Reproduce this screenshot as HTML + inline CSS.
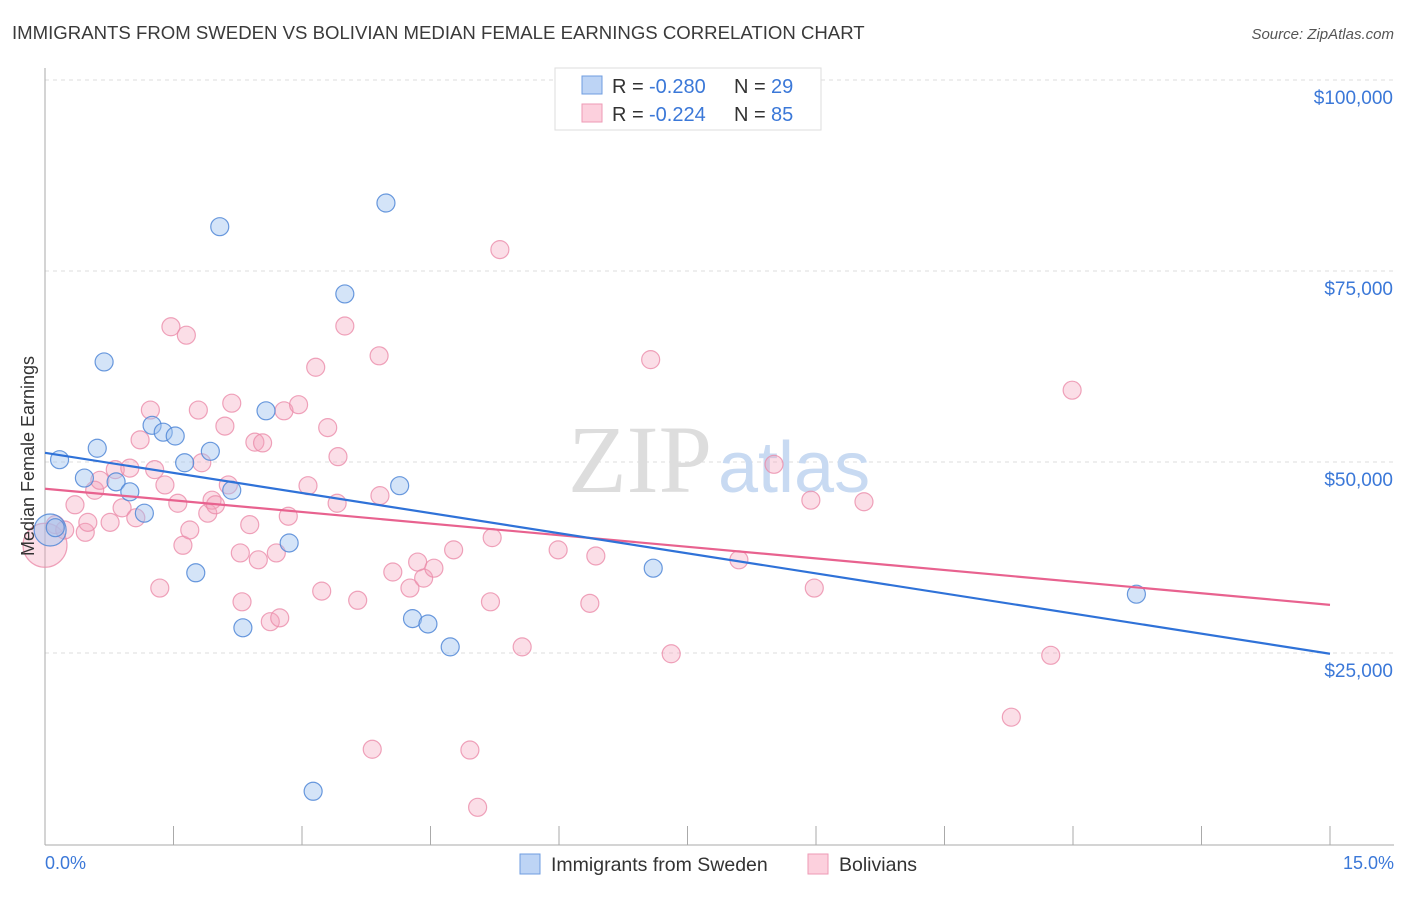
<!DOCTYPE html>
<html><head><meta charset="utf-8"><style>
body{margin:0;background:#fff;font-family:"Liberation Sans",sans-serif}
</style></head><body>
<svg width="1406" height="892" xmlns="http://www.w3.org/2000/svg">
<text x="12" y="39" font-size="18.6" fill="#3a3a3a">IMMIGRANTS FROM SWEDEN VS BOLIVIAN MEDIAN FEMALE EARNINGS CORRELATION CHART</text>
<text x="1394" y="39" font-size="15" fill="#555" font-style="italic" text-anchor="end">Source: ZipAtlas.com</text>
<g id="grid"></g>
<text x="712" y="492" font-size="96" font-family="Liberation Serif" fill="#ddd" text-anchor="end">ZIP</text>
<text x="718" y="492" font-size="72" fill="#c8daf2">atlas</text>
<g id="pts"></g>
<g id="trend"></g>
<text transform="translate(34,456) rotate(-90)" font-size="18" fill="#333" text-anchor="middle">Median Female Earnings</text>
<text x="45" y="869" font-size="18" fill="#3b78d8">0.0%</text>
<text x="1394" y="869" font-size="18" fill="#3b78d8" text-anchor="end">15.0%</text>
<g>
<rect x="555" y="68" width="266" height="62" fill="#fff" stroke="#ddd"/>
<rect x="582" y="76" width="20" height="18" fill="#bdd4f5" stroke="#6f9de0"/>
<rect x="582" y="104" width="20" height="18" fill="#fcd0dd" stroke="#ee9ab5"/>
<text x="612" y="93" font-size="20" fill="#333">R = <tspan x="649" fill="#3b78d8">-0.280</tspan><tspan x="734">N = </tspan><tspan x="771" fill="#3b78d8">29</tspan></text>
<text x="612" y="121" font-size="20" fill="#333">R = <tspan x="649" fill="#3b78d8">-0.224</tspan><tspan x="734">N = </tspan><tspan x="771" fill="#3b78d8">85</tspan></text>
</g>
<g>
<rect x="520" y="854" width="20" height="20" fill="#bdd4f5" stroke="#6f9de0"/>
<text x="551" y="871" font-size="19.5" fill="#333">Immigrants from Sweden</text>
<rect x="808" y="854" width="20" height="20" fill="#fcd0dd" stroke="#ee9ab5"/>
<text x="839" y="871" font-size="19.5" fill="#333">Bolivians</text>
</g>
</svg>
<script>
const yTicks=[25000,50000,75000,100000];
const yTickLabels=["$25,000","$50,000","$75,000","$100,000"];
const xTicks=[0,1.5,3,4.5,6,7.5,9,10.5,12,13.5,15];
const swedenX=[0.06,0.12,0.17,0.46,0.61,0.69,0.83,0.99,1.16,1.25,1.38,1.52,1.63,1.76,1.93,2.04,2.18,2.31,2.58,2.85,3.13,3.50,3.98,4.14,4.29,4.47,4.73,7.10,12.74];
const swedenY=[41.1,41.4,50.3,47.9,51.8,63.1,47.4,46.1,43.3,54.8,53.9,53.4,49.9,35.5,51.4,80.8,46.3,28.3,56.7,39.4,6.9,72.0,83.9,46.9,29.5,28.8,25.8,36.1,32.7];
const bolX=[0.0,0.12,0.23,0.35,0.47,0.50,0.58,0.64,0.76,0.82,0.90,0.99,1.06,1.11,1.23,1.28,1.34,1.40,1.47,1.55,1.61,1.65,1.69,1.79,1.83,1.90,1.95,1.99,2.10,2.14,2.18,2.28,2.30,2.39,2.45,2.49,2.54,2.63,2.70,2.74,2.79,2.84,2.96,3.07,3.16,3.23,3.30,3.41,3.42,3.50,3.65,3.82,3.90,3.91,4.06,4.26,4.35,4.42,4.54,4.77,4.96,5.05,5.20,5.22,5.31,5.57,5.99,6.36,6.43,7.07,7.31,8.10,8.51,8.94,8.98,9.56,11.28,11.74,11.99];
const bolY=[39.1,41.8,41.1,44.4,40.8,42.1,46.3,47.6,42.1,49.0,44.0,49.2,42.7,52.9,56.8,49.0,33.5,47.0,67.7,44.6,39.1,66.6,41.1,56.8,49.9,43.3,45.0,44.4,54.7,47.0,57.7,38.1,31.7,41.8,52.6,37.2,52.5,29.1,38.1,29.6,56.7,42.9,57.5,46.9,62.4,33.1,54.5,44.6,50.7,67.8,31.9,12.4,63.9,45.6,35.6,33.5,36.9,34.8,36.1,38.5,12.3,4.8,31.7,40.1,77.8,25.8,38.5,31.5,37.7,63.4,24.9,37.2,49.7,45.0,33.5,44.8,16.6,24.7,59.4];
const swedenTrend=[51.2,24.9];
const bolTrend=[46.5,31.3];
const NS="http://www.w3.org/2000/svg";
const X0=45,X1=1330,Y0=844;
const sx=v=>X0+(v/15)*(X1-X0);
const sy=v=>Y0-(v/25)*191;
function mk(t,a,p){const e=document.createElementNS(NS,t);for(const k in a)e.setAttribute(k,a[k]);p.appendChild(e);return e;}
const grid=document.getElementById('grid');
yTicks.forEach((t,i)=>{
 const y=sy(t/1000);
 const l=mk('line',{x1:45,x2:1394,y1:y,y2:y,stroke:'#ddd','stroke-dasharray':'4,4'},grid);
 
 
 const tx=mk('text',{x:1393,y:y+24,'font-size':19,fill:'#3b78d8','text-anchor':'end'},grid);
 tx.textContent=yTickLabels[i];
 
 
});
const topGrid=mk('line',{x1:45,x2:1394,y1:80,y2:80,stroke:'#ddd','stroke-dasharray':'4,4'},grid);


const ax=mk('line',{x1:45,x2:1394,y1:845,y2:845,stroke:'#aaa'},grid);


const ay=mk('line',{x1:45,x2:45,y1:68,y2:845,stroke:'#aaa'},grid);


xTicks.forEach(t=>{
 const x=sx(t);
 const l=mk('line',{x1:x,x2:x,y1:826,y2:845,stroke:'#aaa'},grid);
 
 
});
const pts=document.getElementById('pts');
bolX.forEach((v,i)=>{
 const c=mk('circle',{cx:sx(v),cy:sy(bolY[i]),r:i===0?22:9,fill:'rgba(244,160,187,0.35)',stroke:'rgba(235,140,170,0.8)','stroke-width':1.2},pts);
 
 
});
swedenX.forEach((v,i)=>{
 const c=mk('circle',{cx:sx(v),cy:sy(swedenY[i]),r:i===0?16:9,fill:'rgba(160,195,240,0.45)',stroke:'rgba(80,135,215,0.85)','stroke-width':1.2},pts);
 
 
});
const tr=document.getElementById('trend');
const tb=mk('line',{x1:sx(0),y1:sy(bolTrend[0]),x2:sx(15),y2:sy(bolTrend[1]),stroke:'#e8628f','stroke-width':2.2},tr);


const ts=mk('line',{x1:sx(0),y1:sy(swedenTrend[0]),x2:sx(15),y2:sy(swedenTrend[1]),stroke:'#2f72d8','stroke-width':2.2},tr);


</script>
</body></html>
